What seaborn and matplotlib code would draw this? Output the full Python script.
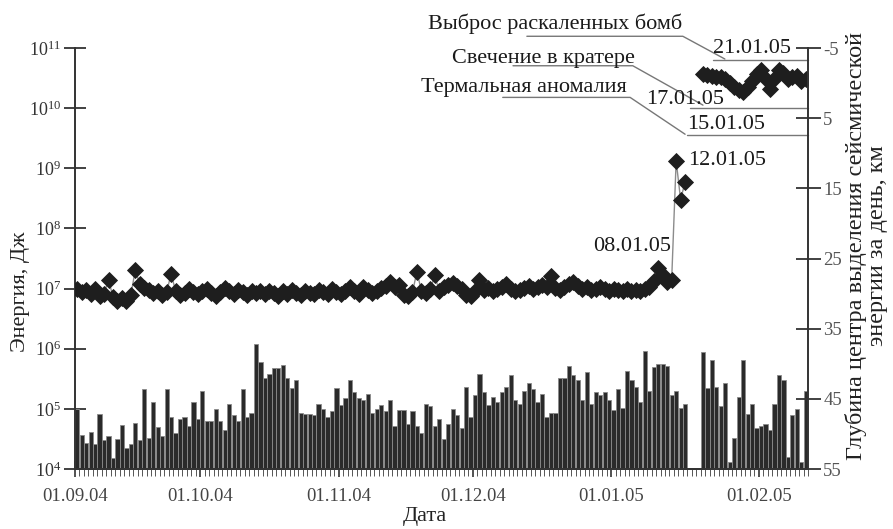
import numpy as np
import pandas as pd
import matplotlib
matplotlib.use("Agg")
import matplotlib.pyplot as plt
import seaborn as sns

# ---- data: daily seismic energy (J) ----
energy_a = [1.0e5, 3.7e4, 2.7e4, 4.2e4, 2.6e4, 8.1e4, 3.0e4, 3.5e4, 1.55e4, 3.1e4,
            5.4e4, 2.2e4, 2.6e4, 5.8e4, 3.0e4, 2.1e5, 3.3e4, 1.3e5, 5.0e4, 3.5e4,
            2.1e5, 7.2e4, 3.9e4, 6.8e4, 7.4e4, 5.2e4, 1.3e5, 6.8e4, 2.0e5, 6.2e4,
            6.2e4, 1.0e5, 6.2e4, 4.5e4, 1.2e5, 7.8e4, 6.2e4, 2.1e5, 7.4e4, 8.5e4,
            1.2e6, 5.9e5]
energy_b = [3.2e5, 3.8e5, 4.8e5, 4.8e5, 5.4e5, 3.2e5, 2.2e5, 3.0e5, 8.5e4, 8.1e4,
            8.1e4, 7.8e4, 1.2e5, 1.0e5, 7.4e4, 9.1e4, 2.2e5, 1.15e5, 1.5e5, 3.0e5,
            1.9e5, 1.5e5, 1.4e5, 1.8e5, 8.5e4, 1.0e5, 1.15e5, 9.1e4, 1.4e5, 5.2e4,
            9.5e4, 9.5e4, 5.5e4, 9.1e4, 5.2e4, 3.9e4, 1.2e5, 1.1e5, 5.2e4, 6.9e4,
            3.1e4]
energy_c = [5.5e4, 1.0e5, 7.9e4, 4.8e4, 2.3e5, 7.4e4, 1.7e5, 3.8e5, 1.9e5, 1.15e5,
            1.55e5, 1.3e5, 1.9e5, 2.3e5, 3.6e5, 1.4e5, 1.2e5, 1.95e5, 2.7e5, 2.1e5,
            1.3e5, 1.8e5, 7.2e4, 8.5e4, 8.5e4, 3.2e5, 3.3e5, 5.1e5, 3.6e5, 3.0e5,
            1.4e5, 4.1e5, 1.2e5, 1.9e5, 1.7e5, 1.9e5, 1.4e5, 9.5e4, 2.1e5, 1.05e5,
            4.3e5, 3.0e5]
energy_d = [2.3e5, 1.3e5, 9.3e5, 2.0e5, 4.9e5, 5.5e5, 5.5e5, 5.1e5, 1.7e5, 2.0e5,
            1.05e5, 1.2e5, np.nan, np.nan, np.nan, 8.9e5, 2.2e5, 6.6e5, 2.3e5, 1.1e5,
            2.7e5, 1.3e4, 3.3e4, 1.55e5, 6.6e5, 8.1e4, 1.2e5, 4.8e4, 5.1e4, 5.5e4,
            4.5e4, 1.2e5, 3.6e5, 3.0e5, 1.6e4, 7.8e4, 1.0e5, 1.3e4, 2.0e5]

# ---- data: daily depth of the seismic energy centre (km) ----
depth_a = [29.3, 29.8, 29.5, 30.1, 29.4, 30.3, 30.0, 28.0, 30.5, 31.0,
           30.6, 31.0, 30.2, 26.6, 28.7, 29.2, 29.5, 29.9, 29.7, 30.2,
           29.8, 27.2, 29.6, 30.2, 29.9, 29.4, 29.8, 30.1, 29.6, 29.3,
           29.9, 30.4, 29.8, 29.2, 29.7, 30.0, 29.5, 29.8, 30.2, 29.6,
           29.9]
depth_b = [29.7, 30.1, 29.6, 29.9, 30.3, 29.7, 30.0, 29.5, 29.9, 30.2,
           29.6, 29.9, 30.1, 29.5, 29.8, 30.0, 29.4, 29.8, 30.1, 29.6,
           29.0, 29.7, 30.0, 29.1, 29.5, 29.9, 29.6, 29.2, 28.9, 28.4,
           29.0, 28.8, 30.2, 30.4, 29.8, 26.9, 29.6, 29.9, 29.4, 27.4,
           29.7, 29.1, 28.8, 28.5, 28.9, 29.4, 30.2, 30.3, 29.6, 28.0,
           29.5, 29.2, 29.7, 29.4]
depth_c = [29.0, 28.7, 29.3, 29.6, 29.5, 29.2, 28.9, 29.3, 29.0, 28.8,
           29.1, 27.5, 29.2, 29.5, 29.0, 28.7, 28.4, 28.9, 29.3, 29.1,
           29.5, 29.3, 29.0, 29.4, 29.6, 29.3, 29.5, 29.7, 29.4, 29.6,
           29.5, 29.7, 29.4, 29.1, 28.2, 26.3, 27.4, 28.3, 28.0, 11.1,
           16.6, 14.1, np.nan, np.nan, np.nan]
depth_d = [-1.3, -1.1, -1.0, -0.8, -0.8, -0.6, 0.0, 0.5, 1.0, 1.3,
           0.5, -0.3, -1.3, -1.9, -0.6, 0.8, -0.6, -1.8, -1.5, -0.6,
           -0.8, -1.0, -0.3, -0.6]

tick_pos = [-0.5, 27.5, 58.5, 88.5, 119.5, 152.5]
tick_labels = ["01.09.04", "01.10.04", "01.11.04", "01.12.04", "01.01.05", "01.02.05"]
depth_ticks = [-5, 5, 15, 25, 35, 45, 55]

energy = energy_a + energy_b + energy_c + energy_d
depth = depth_a + depth_b + depth_c + depth_d
days = np.arange(len(energy))
segment = np.where(days < 140, "before", "after")
df = pd.DataFrame({"day": days, "energy": energy, "depth": depth, "segment": segment})

sns.set_style("ticks")
plt.rcParams["font.family"] = ["Liberation Serif", "DejaVu Serif"]
plt.rcParams["mathtext.default"] = "regular"

W, H = 893, 529
fig = plt.figure(figsize=(W / 100, H / 100), dpi=100)
ax = fig.add_axes([75 / W, 1 - 469 / H, 733 / W, 421 / H])
ax.set_yscale("log")

sns.barplot(data=df, x="day", y="energy", native_scale=True, ax=ax,
            color="#2a2a2a", saturation=1, edgecolor="#8a8a8a", linewidth=0.6,
            width=0.94, errorbar=None)
ax.set_ylim(1e4, 1e11)
ax.set_xlim(-0.5, 163.5)

ax2 = ax.twinx()
sns.lineplot(data=df, x="day", y="depth", units="segment", estimator=None,
             ax=ax2, color="#8c8c8c", lw=1.0, marker="D", markersize=8,
             markerfacecolor="#1e1e1e", markeredgecolor="#1e1e1e",
             markeredgewidth=0.6)
ax2.set_ylim(55, -5)
ax2.set_yticks(depth_ticks)
ax2.set_yticklabels([str(v) for v in depth_ticks])
ax2.set_xlabel("")

ax.set_xticks(tick_pos)
ax.set_xticklabels(tick_labels)
ax.set_xticks(np.arange(-0.5, 164, 1), minor=True)
ax.set_xticklabels([], minor=True)

dark = "#333333"
for a in (ax, ax2):
    a.spines["top"].set_visible(False)
    for s in a.spines.values():
        s.set_color(dark)
        s.set_linewidth(1.4)
ax.spines["right"].set_visible(False)
ax2.spines["left"].set_visible(False)

ax.tick_params(axis="x", which="major", direction="inout", length=12, width=1.2,
               colors=dark, labelcolor="#444444", labelsize=13.5, pad=8)
ax.tick_params(axis="x", which="minor", direction="out", length=5, width=0.7, colors="#555555")
ax.tick_params(axis="y", which="major", direction="inout", length=16, width=1.3,
               colors=dark, labelsize=13, pad=2)
ax.tick_params(axis="y", which="minor", length=0)
ax2.tick_params(axis="y", which="major", direction="inout", length=18, width=1.3,
                colors=dark, labelcolor="#555555", labelsize=13.5, pad=2)

ax.set_xlabel("Дата", fontsize=16, color="#222222")
ax.xaxis.set_label_coords(0.477, -0.09)
ax.set_ylabel("Энергия, Дж", fontsize=16, color="#222222")
ax.yaxis.set_label_coords(-0.062, 0.42)
ax2.set_ylabel("Глубина центра выделения сейсмической\nэнергии за день, км",
               fontsize=17.5, color="#222222", linespacing=1.0)
ax2.yaxis.set_label_coords(1.050, 0.53)

# ---- annotations ----
tc = "#1a1a1a"
lc = "#777777"
fs = 16
ax2.plot([142.2, 163.5], [-3.3, -3.3], color=lc, lw=1.0, clip_on=False)
ax2.plot([137.1, 163.5], [3.6, 3.6], color=lc, lw=1.0, clip_on=False)
ax2.plot([136.4, 163.5], [7.4, 7.4], color=lc, lw=1.0, clip_on=False)
ax2.text(142.2, -3.6, "21.01.05", fontsize=fs, color=tc, ha="left", va="bottom")
ax2.text(127.3, 3.7, "17.01.05", fontsize=fs, color=tc, ha="left", va="bottom")
ax2.text(136.4, 7.2, "15.01.05", fontsize=fs, color=tc, ha="left", va="bottom")
ax2.text(136.6, 11.1, "12.01.05", fontsize=fs, color=tc, ha="left", va="center")
ax2.text(124.1, 23.3, "08.01.05", fontsize=fs, color=tc, ha="center", va="center")

ax2.text(106.9, -8.4, "Выброс раскаленных бомб", fontsize=fs, color=tc,
         ha="center", va="center")
ax2.plot([100.6, 135.5, 144.9], [-6.67, -6.67, -3.43], color=lc, lw=1.0, clip_on=False)
ax2.text(104.2, -3.53, "Свечение в кратере", fontsize=fs, color=tc,
         ha="center", va="center")
ax2.plot([97.5, 124.3, 140.0], [-2.47, -2.47, 3.14], color=lc, lw=1.0, clip_on=False)
ax2.text(99.9, 0.61, "Термальная аномалия", fontsize=fs, color=tc,
         ha="center", va="center")
ax2.plot([95.2, 123.7, 136.0], [2.04, 2.04, 7.29], color=lc, lw=1.0, clip_on=False)

ax.set_zorder(1)
ax2.set_zorder(2)
ax.patch.set_visible(False)

fig.savefig("out.png", dpi=100)
